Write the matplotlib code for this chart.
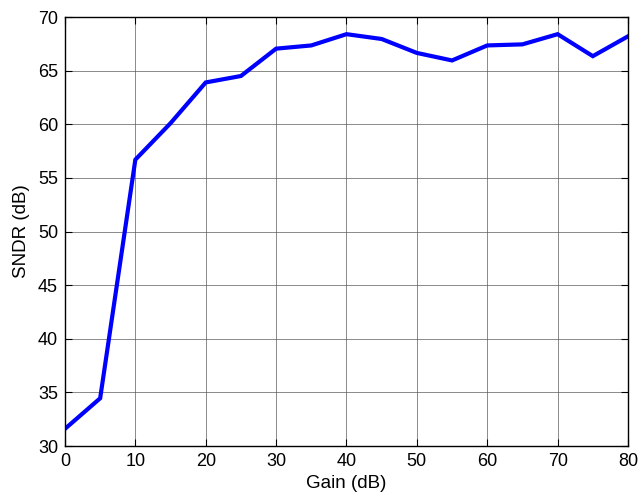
import matplotlib
matplotlib.use("Agg")
import matplotlib.pyplot as plt

gain_db = [0, 5, 10, 15, 20, 25, 30, 35, 40, 45, 50, 55, 60, 65, 70, 75, 80]
sndr_db = [31.6, 34.45, 56.7, 60.1, 63.9, 64.5, 67.05, 67.35, 68.4, 67.95,
           66.65, 65.95, 67.35, 67.45, 68.4, 66.35, 68.2]

x_ticks = [0, 10, 20, 30, 40, 50, 60, 70, 80]
y_ticks = [30, 35, 40, 45, 50, 55, 60, 65, 70]

plt.rcParams['font.family'] = ['Liberation Sans', 'DejaVu Sans']

fig = plt.figure(figsize=(6.42, 4.96), dpi=100)
ax = fig.add_axes([0.1012, 0.1008, 0.877, 0.8649])

ax.plot(gain_db, sndr_db, color='#0000ff', linewidth=3, solid_joinstyle='miter')

ax.set_xlim(0, 80)
ax.set_ylim(30, 70)
ax.set_xticks(x_ticks)
ax.set_yticks(y_ticks)
ax.grid(True, color='#555555', linewidth=0.6, linestyle='-', alpha=0.8)
ax.set_axisbelow(True)
ax.tick_params(direction='in', length=5, width=0.8, labelsize=13, pad=5,
               top=True, right=True, colors='black')
for s in ax.spines.values():
    s.set_linewidth(1.0)
    s.set_color('black')

ax.set_xlabel('Gain (dB)', fontsize=13.5, labelpad=3.5)
ax.set_ylabel('SNDR (dB)', fontsize=13.5, labelpad=5.5)

fig.savefig('out.png', dpi=100)
